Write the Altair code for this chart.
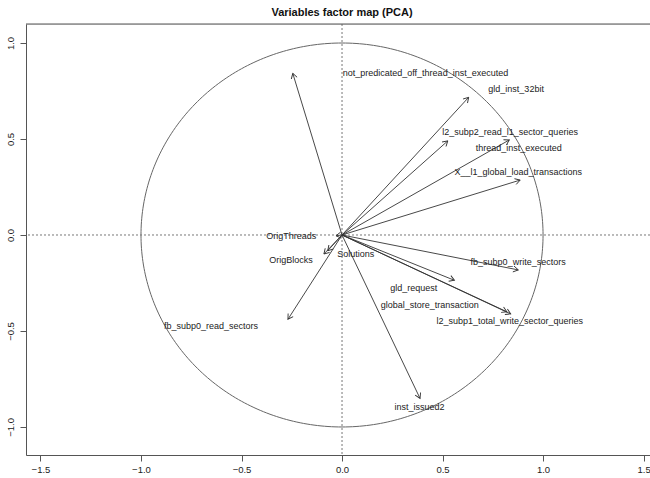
import math
import numpy as np
import pandas as pd
import altair as alt

# PCA variable coordinates on the first two dimensions
variables = [
    "not_predicated_off_thread_inst_executed",
    "gld_inst_32bit",
    "l2_subp2_read_l1_sector_queries",
    "thread_inst_executed",
    "X__l1_global_load_transactions",
    "fb_subp0_write_sectors",
    "gld_request",
    "global_store_transaction",
    "l2_subp1_total_write_sector_queries",
    "inst_issued2",
    "fb_subp0_read_sectors",
    "OrigBlocks",
    "OrigThreads",
    "Solutions",
]
dim1 = [-0.245, 0.630, 0.526, 0.832, 0.886, 0.877, 0.559, 0.820, 0.839, 0.388, -0.269, -0.090, -0.030, -0.071]
dim2 = [0.842, 0.717, 0.490, 0.495, 0.286, -0.182, -0.236, -0.400, -0.411, -0.851, -0.439, -0.099, -0.004, -0.082]

# where each variable name is printed (repelled from the arrow tips)
label_x = [0.415, 0.866, 0.836, 0.879, 0.877, 0.876, 0.357, 0.436, 0.834, 0.385, -0.652, -0.254, -0.252, 0.068]
label_y = [0.844, 0.760, 0.536, 0.453, 0.328, -0.141, -0.276, -0.365, -0.448, -0.894, -0.474, -0.130, -0.005, -0.101]

x_ticks = [-1.5, -1.0, -0.5, 0.0, 0.5, 1.0, 1.5]
y_ticks = [-1.0, -0.5, 0.0, 0.5, 1.0]

W, H = 624, 431
X_DOM = [-1.572, 1.532]
Y_DOM = [-1.146, 1.099]
px_x = W / (X_DOM[1] - X_DOM[0])
px_y = H / (Y_DOM[1] - Y_DOM[0])

FONT = "Liberation Sans"
INK = "#333333"

vars_df = pd.DataFrame({"variable": variables, "dim1": dim1, "dim2": dim2,
                        "lx": label_x, "ly": label_y})
vars_df["ox"] = 0.0
vars_df["oy"] = 0.0
# screen-space heading of each arrow, clockwise degrees for the head symbol
vars_df["heading"] = [
    math.degrees(math.atan2(-b * px_y, a * px_x)) % 360 for a, b in zip(dim1, dim2)
]

# correlation circle of radius 1
t = np.linspace(0, 2 * np.pi, 361)
circle_df = pd.DataFrame({"cx": np.cos(t), "cy": np.sin(t), "k": np.arange(361)})

xs = alt.Scale(domain=X_DOM, nice=False, zero=False)
ys = alt.Scale(domain=Y_DOM, nice=False, zero=False)
x_axis = alt.Axis(values=x_ticks, format=".1f", title=None, grid=False,
                  tickSize=6, labelPadding=3, labelFontSize=9.5, labelFont=FONT,
                  labelColor="#222222", domainColor="#555555", tickColor="#555555",
                  labelFlush=False)
y_axis = alt.Axis(values=y_ticks, format=".1f", title=None, grid=False,
                  tickSize=6, labelPadding=5, labelFontSize=9.5, labelFont=FONT,
                  labelColor="#222222", domainColor="#555555", tickColor="#555555",
                  labelAngle=270, labelAlign="center", labelBaseline="bottom",
                  labelFlush=False)

circle = alt.Chart(circle_df).mark_line(color="#666666", strokeWidth=1).encode(
    x=alt.X("cx:Q", scale=xs, axis=x_axis),
    y=alt.Y("cy:Q", scale=ys, axis=y_axis),
    order="k:Q",
)

ref_df = pd.DataFrame({"z": [0.0]})
vline = alt.Chart(ref_df).mark_rule(color="#777777", strokeDash=[2, 2], strokeWidth=1).encode(
    x=alt.X("z:Q", scale=xs, axis=x_axis)
)
hline = alt.Chart(ref_df).mark_rule(color="#777777", strokeDash=[2, 2], strokeWidth=1).encode(
    y=alt.Y("z:Q", scale=ys, axis=y_axis)
)

shafts = alt.Chart(vars_df).mark_rule(color=INK, strokeWidth=0.9).encode(
    x=alt.X("ox:Q", scale=xs, axis=x_axis),
    y=alt.Y("oy:Q", scale=ys, axis=y_axis),
    x2="dim1:Q",
    y2="dim2:Q",
)

heads = alt.Chart(vars_df).mark_point(
    shape="M -1 -0.6 L 0 0 L -1 0.6",
    filled=False, color=INK, strokeWidth=0.9, size=100, opacity=1,
).encode(
    x=alt.X("dim1:Q", scale=xs, axis=x_axis),
    y=alt.Y("dim2:Q", scale=ys, axis=y_axis),
    angle=alt.Angle("heading:Q", scale=None),
)

labels = alt.Chart(vars_df).mark_text(
    font=FONT, fontSize=9, color="#222222", align="center", baseline="middle"
).encode(
    x=alt.X("lx:Q", scale=xs, axis=x_axis),
    y=alt.Y("ly:Q", scale=ys, axis=y_axis),
    text="variable:N",
)

title = alt.Chart(ref_df).mark_text(
    text="Variables factor map (PCA)", font=FONT,
    fontSize=11, fontWeight="bold", color="#111111", baseline="middle", align="center",
).encode(
    x=alt.X("z:Q", scale=xs, axis=x_axis),
    y=alt.value(-11),
)

top_border = alt.Chart(ref_df).mark_rule(color="#555555", strokeWidth=1).encode(
    x=alt.value(0), x2=alt.value(W), y=alt.value(0)
)

chart = alt.layer(
    circle, vline, hline, shafts, heads, labels, title, top_border
).properties(
    width=W, height=H,
    padding={"left": 26, "top": 24, "right": 0, "bottom": 23},
    autosize=alt.AutoSizeParams(type="none"),
).configure_view(stroke=None).configure(background="white")

chart.save("out.html", embed_options={"renderer": "svg", "actions": False})
